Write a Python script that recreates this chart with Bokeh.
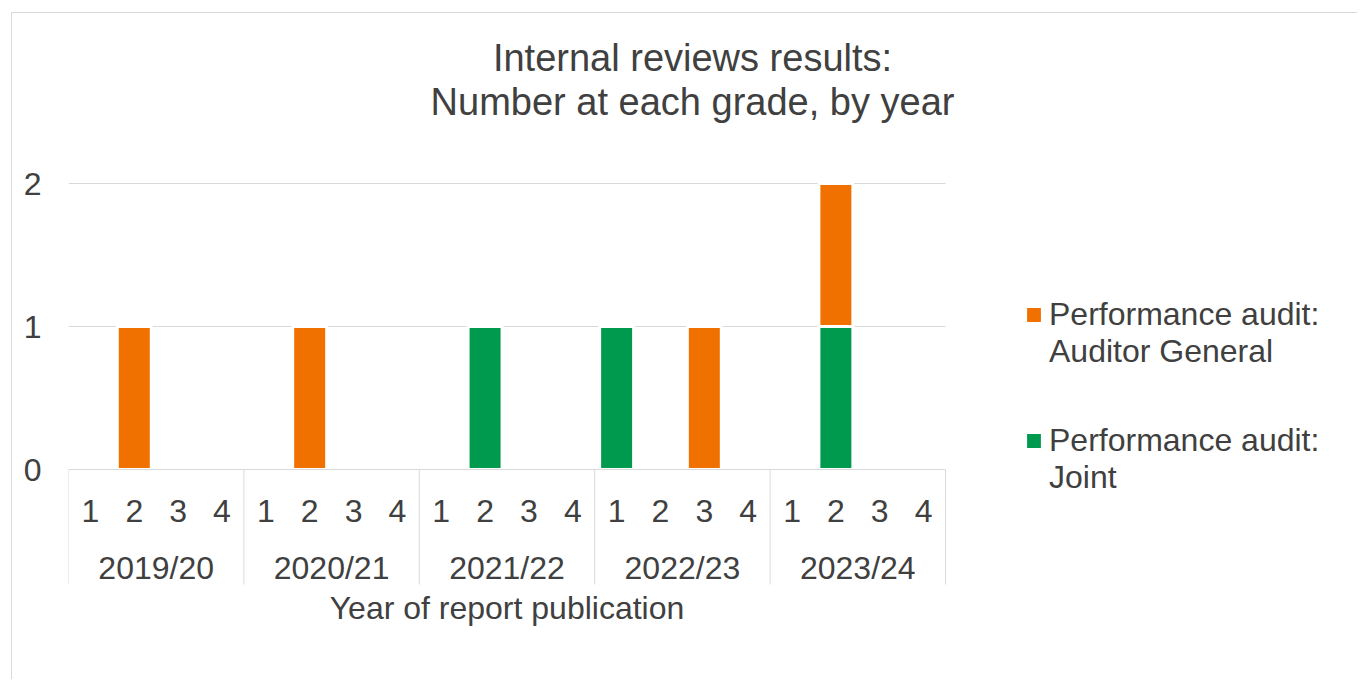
from bokeh.plotting import figure
from bokeh.models import Range1d, FixedTicker, Legend, LegendItem, ColumnDataSource
from bokeh.core.properties import value
from bokeh.embed import file_html
from bokeh.resources import INLINE

# ---------------- data ----------------
years = ["2019/20", "2020/21", "2021/22", "2022/23", "2023/24"]
grades = ["1", "2", "3", "4"]
# number of reports at each grade (columns = grades 1..4), one row per year
auditor_general = [
    [0, 1, 0, 0],
    [0, 1, 0, 0],
    [0, 0, 0, 0],
    [0, 0, 1, 0],
    [0, 1, 0, 0],
]
joint = [
    [0, 0, 0, 0],
    [0, 0, 0, 0],
    [0, 1, 0, 0],
    [1, 0, 0, 0],
    [0, 1, 0, 0],
]
y_ticks = [0, 1, 2]
series_labels = ["Performance audit:\nAuditor General", "Performance audit:\nJoint"]
title_lines = ["Internal reviews results:", "Number at each grade, by year"]
x_title = "Year of report publication"

# ---------------- styles / layout ----------------
FONT = "Liberation Sans"
TXT = "#404040"
GRID = "#D9D9D9"
ORANGE = "#F07000"
GREEN = "#009A4E"

W, H = 1346, 667            # canvas size (placed at page x=12, y=13)
LEFT = 56                   # plot area starts here (canvas px)
PLOT_W = 877                # width of the category area (px)
PX_Y = 143.0                # px per unit on the value axis
ZERO_Y = 456                # canvas y of value 0

n_g = len(grades)
n_slots = len(years) * n_g
ux = PLOT_W / n_slots       # px per category slot

x_end = (W - LEFT) / ux
y_end = ZERO_Y / PX_Y
y_start = -(H - ZERO_Y) / PX_Y

def slot_x(i, k):
    return i * n_g + k + 0.5

# stacked segments (joint at bottom, auditor general on top), only non-zero ones
j_src = dict(x=[], bottom=[], top=[])
a_src = dict(x=[], bottom=[], top=[])
for i, y in enumerate(years):
    for k, g in enumerate(grades):
        jv = joint[i][k]
        av = auditor_general[i][k]
        if jv > 0:
            j_src["x"].append(slot_x(i, k)); j_src["bottom"].append(0); j_src["top"].append(jv)
        if av > 0:
            a_src["x"].append(slot_x(i, k)); a_src["bottom"].append(jv); a_src["top"].append(jv + av)

p = figure(width=W, height=H,
           x_range=Range1d(0, x_end), y_range=Range1d(y_start, y_end),
           x_axis_location=None, y_axis_location="left",
           output_backend="svg", toolbar_location=None,
           min_border_left=LEFT, min_border_right=0,
           min_border_top=0, min_border_bottom=0)
p.styles = {"margin-left": "11px", "margin-top": "12px",
            "border-left": "1px solid #D9D9D9", "border-top": "1px solid #D9D9D9"}
p.title.visible = False
p.outline_line_color = None
p.background_fill_color = "white"
p.border_fill_color = "white"
p.grid.visible = False

# value axis
p.yaxis.ticker = FixedTicker(ticks=y_ticks)
p.yaxis.axis_line_color = None
p.yaxis.major_tick_line_color = None
p.yaxis.minor_tick_line_color = None
p.yaxis.major_label_standoff = 21
p.yaxis.major_label_text_font = FONT
p.yaxis.major_label_text_font_size = "32px"
p.yaxis.major_label_text_color = TXT

# horizontal gridlines (across the category area only)
grid_y = [t for t in y_ticks if t != 0]
p.segment(x0=[0] * len(grid_y), x1=[n_slots] * len(grid_y), y0=grid_y, y1=grid_y,
          line_color=GRID, line_width=1)

# bars
bar_w = 0.775
r_joint = p.vbar(x="x", bottom="bottom", top="top", width=bar_w,
                 source=ColumnDataSource(j_src), fill_color=GREEN,
                 line_color="white", line_width=3)
r_ag = p.vbar(x="x", bottom="bottom", top="top", width=bar_w,
              source=ColumnDataSource(a_src), fill_color=ORANGE,
              line_color="white", line_width=3)

# category axis: baseline, group separators, two label levels
band_bottom = -115.0 / PX_Y
p.segment(x0=[0], x1=[n_slots], y0=[0], y1=[0], line_color=GRID, line_width=1)
sep_x = [i * n_g for i in range(len(years) + 1)]
p.segment(x0=sep_x, x1=sep_x, y0=[0] * len(sep_x), y1=[band_bottom] * len(sep_x),
          line_color=GRID, line_width=1)
p.text(x=[slot_x(i, k) for i in range(len(years)) for k in range(n_g)],
       y=-41.0 / PX_Y, text=[g for _ in years for g in grades],
       text_font=value(FONT), text_font_size=value("32px"), text_color=TXT,
       text_align="center", text_baseline="middle")
p.text(x=[i * n_g + n_g / 2 for i in range(len(years))], y=-98.0 / PX_Y, text=years,
       text_font=value(FONT), text_font_size=value("32px"), text_color=TXT,
       text_align="center", text_baseline="middle")
# axis title
p.text(x=[n_slots / 2], y=-138.0 / PX_Y, text=[x_title],
       text_font=value(FONT), text_font_size=value("32px"), text_color=TXT,
       text_align="center", text_baseline="middle")

# chart title (two lines)
title_x = (692 - 68) / ux
p.text(x=[title_x, title_x], y=[(469 - 57) / PX_Y, (469 - 101) / PX_Y], text=title_lines,
       text_font=value(FONT), text_font_size=value("38px"), text_color=TXT,
       text_align="center", text_baseline="middle")

# legend (leading blank line keeps the marker level with the first text line)
legend = Legend(items=[LegendItem(label="\n" + series_labels[0], renderers=[r_ag]),
                       LegendItem(label="\n" + series_labels[1], renderers=[r_joint])],
                location=(955, 184), padding=0, margin=0, spacing=15,
                border_line_color=None, background_fill_alpha=0,
                glyph_width=21, glyph_height=21, label_standoff=5,
                label_text_font=FONT, label_text_font_size="32px",
                label_text_color=TXT, label_text_line_height=1.15)
p.add_layout(legend)

open("out.html", "w").write(file_html(p, INLINE))
